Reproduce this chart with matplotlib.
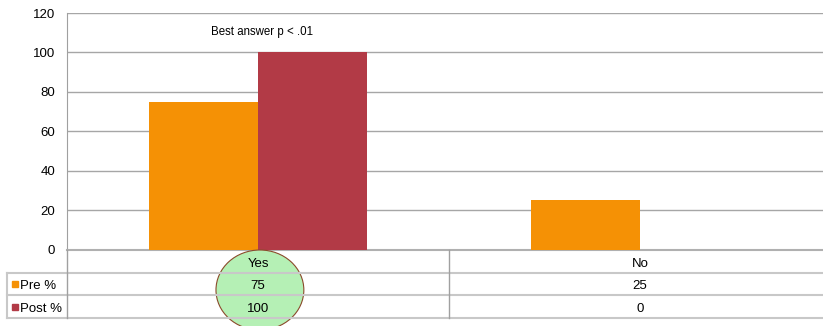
import numpy as np
import matplotlib.pyplot as plt
from matplotlib.patches import Ellipse

plt.rcParams['font.family'] = ['Liberation Sans', 'DejaVu Sans']

# data
categories = ['Yes', 'No']
series_names = ['Pre %', 'Post %']
pre = [75, 25]
post = [100, 0]
colors = ['#F59105', '#B23A46']
note = 'Best answer p < .01'

grid_col = '#a6a6a6'
table_col = '#c8c8c8'

fig = plt.figure(figsize=(8.23, 3.26), dpi=100)
# plot area runs a bit past the right edge of the figure
ax = fig.add_axes([67/823, 76.5/326, 764/823, 236.5/326])
tab = fig.add_axes([67/823, 8/326, 764/823, 68/326])

x = np.arange(len(categories))
w = 0.285
ax.bar(x - w/2, pre, w, color=colors[0], zorder=3)
ax.bar(x + w/2, post, w, color=colors[1], zorder=3)

ax.set_xlim(-0.5, 1.5)
ax.set_ylim(0, 120)
ax.set_yticks(np.arange(0, 121, 20))
ax.set_xticks([])
ax.yaxis.grid(True, color=grid_col, lw=1.0)
ax.set_axisbelow(True)
ax.tick_params(axis='y', length=0, pad=8.5, labelsize=9.5)
for s in ['top', 'right']:
    ax.spines[s].set_visible(False)
ax.spines['left'].set_color('#a0a0a0')
ax.spines['bottom'].set_color('#b0b0b0')
ax.spines['bottom'].set_linewidth(1.5)

ax.text(0.01, 110.6, note, ha='center', va='center', fontsize=8.3)

# data table under the chart
tab.set_xlim(-0.5, 1.5)
tab.set_ylim(3, 0)
tab.axis('off')

x_left = -0.657
for yy in [1, 2, 3]:
    tab.plot([x_left, 1.53], [yy, yy], color=table_col, lw=1.5, clip_on=False, zorder=2)
tab.plot([x_left, x_left], [1, 3], color=table_col, lw=1.5, clip_on=False, zorder=2)
tab.plot([-0.5, -0.5], [0, 3], color='#a0a0a0', lw=1.0, clip_on=False, zorder=2)
tab.plot([0.5, 0.5], [0, 3], color='#a0a0a0', lw=1.0, clip_on=False, zorder=2)

# circle round the Yes column
tab.add_patch(Ellipse((0.005, 1.765), 0.23, 3.53, facecolor='#b5f0b5',
                      edgecolor='#8b4a2b', lw=0.8, clip_on=False, zorder=1))

dy = 0.6
for i, cat in enumerate(categories):
    tab.text(i, dy, cat, ha='center', va='center', fontsize=9.5, zorder=4)
    tab.text(i, 1 + dy, str(pre[i]), ha='center', va='center', fontsize=9.5, zorder=4)
    tab.text(i, 2 + dy, str(post[i]), ha='center', va='center', fontsize=9.5, zorder=4)

for r, (name, c) in enumerate(zip(series_names, colors)):
    tab.plot([-0.636], [r + 1.5], marker='s', ms=5, color=c, clip_on=False, zorder=4)
    tab.text(-0.622, r + dy + 1, name, ha='left', va='center', fontsize=9.5, zorder=4)

fig.savefig('out.png', dpi=100)
